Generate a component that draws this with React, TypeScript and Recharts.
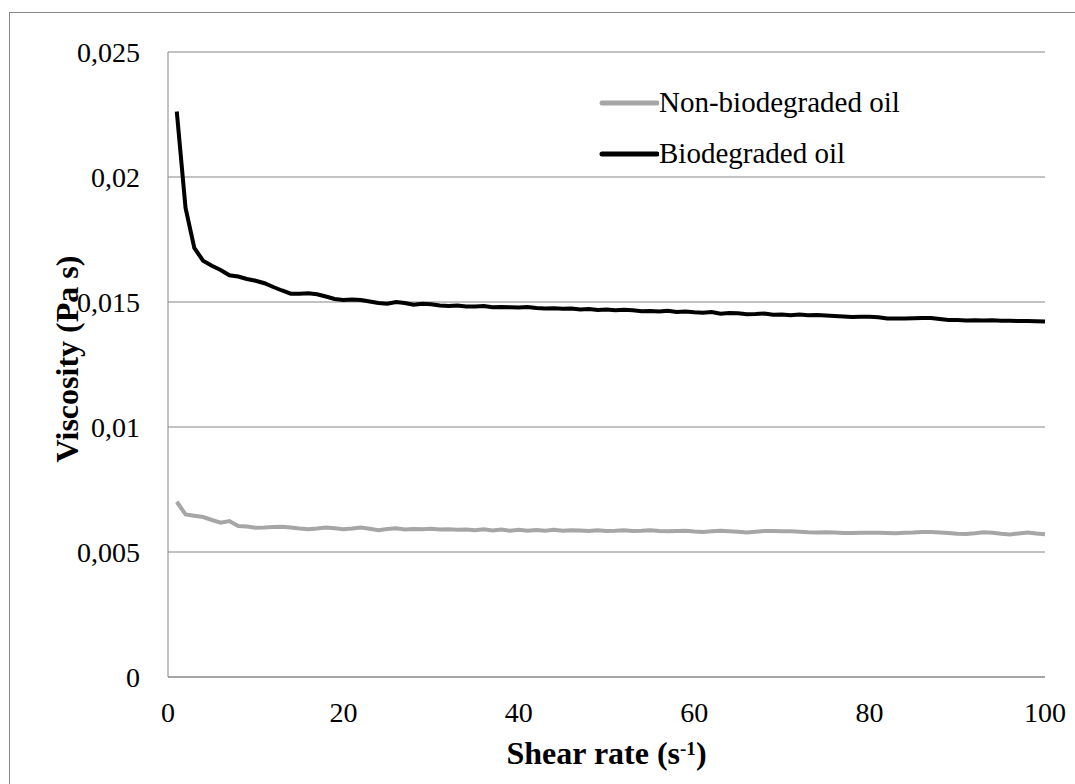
import { LineChart, Line, XAxis, YAxis, CartesianGrid, Legend } from 'recharts'

const shearRate = [
  1, 2, 3, 4, 5, 6, 7, 8, 9, 10, 11, 12, 13, 14, 15, 16, 17, 18, 19, 20,
  21, 22, 23, 24, 25, 26, 27, 28, 29, 30, 31, 32, 33, 34, 35, 36, 37, 38, 39, 40,
  41, 42, 43, 44, 45, 46, 47, 48, 49, 50, 51, 52, 53, 54, 55, 56, 57, 58, 59, 60,
  61, 62, 63, 64, 65, 66, 67, 68, 69, 70, 71, 72, 73, 74, 75, 76, 77, 78, 79, 80,
  81, 82, 83, 84, 85, 86, 87, 88, 89, 90, 91, 92, 93, 94, 95, 96, 97, 98, 99, 100,
]

const biodegraded = [
  0.02262, 0.01876, 0.01716, 0.01665, 0.01645, 0.01628, 0.01607, 0.01602, 0.01592, 0.01585,
  0.01575, 0.0156, 0.01546, 0.01533, 0.01533, 0.01535, 0.01531, 0.01522, 0.01512, 0.01508,
  0.0151, 0.01508, 0.01502, 0.01496, 0.01493, 0.015, 0.01496, 0.01489, 0.01493, 0.01491,
  0.01486, 0.01484, 0.01486, 0.01482, 0.01482, 0.01484, 0.01479, 0.0148, 0.01479, 0.01478,
  0.0148, 0.01476, 0.01474, 0.01475, 0.01473, 0.01474, 0.0147, 0.01472, 0.01468, 0.0147,
  0.01467, 0.01469, 0.01467, 0.01463, 0.01464, 0.01462, 0.01465, 0.0146, 0.01462, 0.01459,
  0.01457, 0.0146, 0.01453, 0.01456, 0.01455, 0.01451, 0.01452, 0.01454, 0.01449, 0.0145,
  0.01447, 0.0145, 0.01447, 0.01448, 0.01446, 0.01444, 0.01442, 0.0144, 0.01441, 0.01441,
  0.01439, 0.01434, 0.01434, 0.01434, 0.01435, 0.01436, 0.01436, 0.01432, 0.01428, 0.01428,
  0.01426, 0.01427, 0.01426, 0.01427, 0.01425, 0.01425, 0.01424, 0.01424, 0.01423, 0.01422,
]

const nonBiodegraded = [
  0.00701, 0.0065, 0.00645, 0.0064, 0.00628, 0.00617, 0.00624, 0.00604, 0.00602, 0.00597,
  0.00598, 0.006, 0.00601, 0.00598, 0.00594, 0.00591, 0.00594, 0.00598, 0.00595, 0.00591,
  0.00594, 0.00598, 0.00593, 0.00587, 0.00592, 0.00595, 0.0059, 0.00592, 0.00591, 0.00593,
  0.0059, 0.00591, 0.00589, 0.0059, 0.00587, 0.00591, 0.00586, 0.0059, 0.00585, 0.00589,
  0.00585, 0.00588, 0.00585, 0.00589, 0.00585, 0.00587, 0.00586, 0.00584, 0.00587, 0.00584,
  0.00585, 0.00587, 0.00584, 0.00585, 0.00587, 0.00584, 0.00583, 0.00584, 0.00585, 0.00582,
  0.0058, 0.00583, 0.00585, 0.00583, 0.00581, 0.00578, 0.00581, 0.00584, 0.00584, 0.00583,
  0.00583, 0.00581, 0.00579, 0.00578, 0.00579, 0.00578, 0.00576, 0.00576, 0.00577, 0.00577,
  0.00577, 0.00576, 0.00575, 0.00577, 0.00578, 0.0058, 0.0058, 0.00578, 0.00576, 0.00573,
  0.00572, 0.00575, 0.00579, 0.00577, 0.00573, 0.0057, 0.00574, 0.00578, 0.00574, 0.00571,
]

const xTicks = [0, 20, 40, 60, 80, 100]
const yTicks = [0, 0.005, 0.01, 0.015, 0.02, 0.025]

const chartData = shearRate.map((x, i) => ({
  x,
  nonBio: nonBiodegraded[i],
  bio: biodegraded[i],
}))

const FONT = '"Liberation Serif", "Times New Roman", serif'
const GRID = '#868686'
const GREY_LINE = '#a6a6a6'

const tickStyle = { fontFamily: FONT, fontSize: 28, fill: '#000' }

function formatViscosity(v: number): string {
  return v === 0 ? '0' : String(v).replace('.', ',')
}

function XTitle(props: any) {
  const { viewBox } = props
  const cx = viewBox.x + viewBox.width / 2
  return (
    <text
      x={cx}
      y={764}
      textAnchor="middle"
      style={{ fontFamily: FONT, fontSize: 32, fontWeight: 'bold' }}
      fill="#000"
    >
      Shear rate (s
      <tspan dy={-9} style={{ fontSize: 19 }}>-1</tspan>
      <tspan dy={9}>)</tspan>
    </text>
  )
}

function YTitle() {
  return (
    <text
      x={78}
      y={359}
      transform="rotate(-90, 78, 359)"
      textAnchor="middle"
      style={{ fontFamily: FONT, fontSize: 32, fontWeight: 'bold' }}
      fill="#000"
    >
      Viscosity (Pa s)
    </text>
  )
}

function renderLegend() {
  const items = [
    { label: 'Non-biodegraded oil', color: GREY_LINE },
    { label: 'Biodegraded oil', color: '#000' },
  ]
  return (
    <div style={{ fontFamily: FONT, fontSize: 29, color: '#000' }}>
      {items.map((it) => (
        <div key={it.label} style={{ display: 'flex', alignItems: 'center', height: 51 }}>
          <svg width={60} height={10}>
            <line x1={3} y1={5} x2={58} y2={5} stroke={it.color} strokeWidth={5} strokeLinecap="round" />
          </svg>
          <span style={{ lineHeight: '29px' }}>{it.label}</span>
        </div>
      ))}
    </div>
  )
}

export default function App() {
  return (
    <div
      style={{
        position: 'fixed',
        left: 0,
        top: 0,
        width: 1075,
        height: 784,
        overflow: 'hidden',
        background: '#fff',
        fontFamily: FONT,
      }}
    >
      <div
        style={{
          position: 'absolute',
          left: 9,
          top: 12,
          width: 1100,
          height: 800,
          border: `1px solid ${GRID}`,
        }}
      />
      <div style={{ position: 'absolute', left: 0, top: 0 }}>
        <LineChart
          width={1075}
          height={784}
          data={chartData}
          margin={{ top: 52, right: 30, bottom: 47, left: 68 }}
          style={{ fontFamily: FONT }}
        >
          <CartesianGrid vertical={false} stroke={GRID} strokeWidth={1} />
          <XAxis
            dataKey="x"
            type="number"
            domain={[0, 100]}
            ticks={xTicks}
            tickLine={false}
            tickSize={0}
            tickMargin={25}
            height={60}
            stroke={GRID}
            tick={tickStyle}
            label={<XTitle />}
          />
          <YAxis
            type="number"
            domain={[0, 0.025]}
            ticks={yTicks}
            tickFormatter={formatViscosity}
            tickLine={false}
            tickSize={0}
            tickMargin={28}
            width={100}
            stroke={GRID}
            tick={tickStyle}
            label={<YTitle />}
          />
          <Legend
            layout="vertical"
            align="center"
            verticalAlign="middle"
            content={renderLegend}
            wrapperStyle={{ position: 'absolute', left: 599, top: 77, width: 420 }}
          />
          <Line
            type="linear"
            dataKey="nonBio"
            name="Non-biodegraded oil"
            stroke={GREY_LINE}
            strokeWidth={4}
            dot={false}
            isAnimationActive={false}
          />
          <Line
            type="linear"
            dataKey="bio"
            name="Biodegraded oil"
            stroke="#000"
            strokeWidth={4}
            dot={false}
            isAnimationActive={false}
          />
        </LineChart>
      </div>
    </div>
  )
}
